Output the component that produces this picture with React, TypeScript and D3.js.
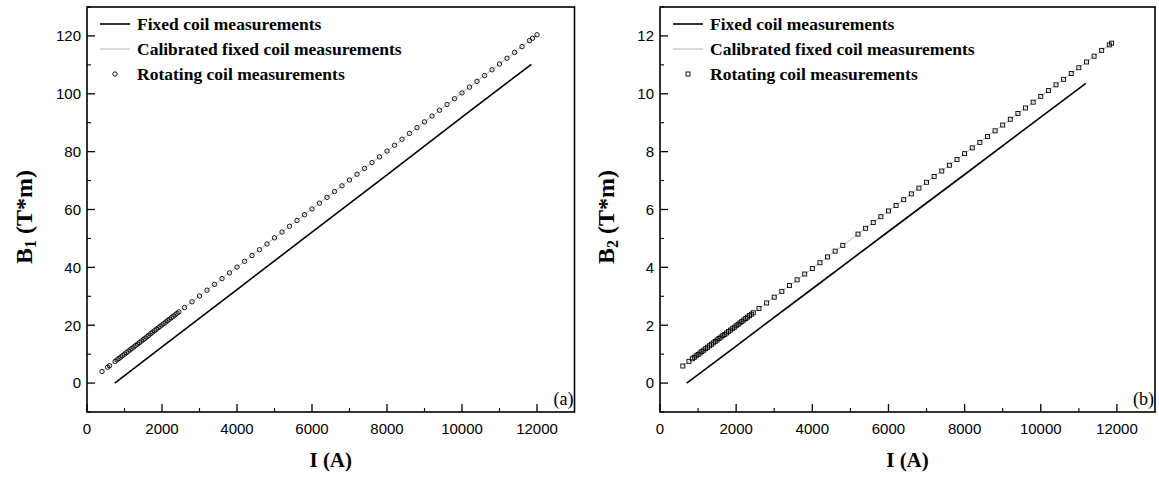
import React from 'react';
import * as d3 from 'd3';

// ---------- Panel (a) data ----------
const aRotCurrent = [400, 550, 600, 750, 800, 850, 900, 950, 1000, 1050, 1100, 1150, 1200, 1250, 1300, 1350, 1400, 1450, 1500, 1550, 1600, 1650, 1700, 1750, 1800, 1850, 1900, 1950, 2000, 2050, 2100, 2150, 2200, 2250, 2300, 2350, 2400, 2450, 2600, 2800, 3000, 3200, 3400, 3600, 3800, 4000, 4200, 4400, 4600, 4800, 5000, 5200, 5400, 5600, 5800, 6000, 6200, 6400, 6600, 6800, 7000, 7200, 7400, 7600, 7800, 8000, 8200, 8400, 8600, 8800, 9000, 9200, 9400, 9600, 9800, 10000, 10200, 10400, 10600, 10800, 11000, 11200, 11400, 11600, 11800, 11880, 12000];
const aRotB = [4.0, 5.5, 6.0, 7.5, 8.0, 8.5, 9.0, 9.5, 10.0, 10.5, 11.0, 11.5, 12.0, 12.5, 13.0, 13.5, 14.0, 14.5, 15.0, 15.5, 16.0, 16.5, 17.1, 17.6, 18.1, 18.6, 19.1, 19.6, 20.1, 20.6, 21.1, 21.6, 22.1, 22.6, 23.1, 23.6, 24.1, 24.6, 26.1, 28.1, 30.1, 32.1, 34.1, 36.1, 38.1, 40.1, 42.1, 44.1, 46.1, 48.1, 50.2, 52.2, 54.2, 56.2, 58.2, 60.2, 62.2, 64.2, 66.2, 68.2, 70.2, 72.2, 74.2, 76.2, 78.2, 80.2, 82.2, 84.3, 86.3, 88.3, 90.3, 92.3, 94.3, 96.3, 98.3, 100.3, 102.3, 104.3, 106.3, 108.3, 110.3, 112.3, 114.3, 116.3, 118.4, 119.2, 120.4];
const aFixedCurrent = [741, 2000, 4000, 6000, 8000, 10000, 11850];
const aFixedB = [0.0, 12.5, 32.3, 52.2, 72.0, 91.9, 110.2];
const aCalCurrent = [400, 2000, 4000, 6000, 8000, 10000, 12000];
const aCalB = [4.0, 20.1, 40.1, 60.2, 80.2, 100.3, 120.4];

// ---------- Panel (b) data ----------
const bRotCurrent = [600, 760, 850, 900, 950, 1000, 1050, 1100, 1150, 1200, 1250, 1300, 1350, 1400, 1450, 1500, 1550, 1600, 1650, 1700, 1750, 1800, 1850, 1900, 1950, 2000, 2050, 2100, 2150, 2200, 2250, 2300, 2350, 2400, 2450, 2600, 2800, 3000, 3200, 3400, 3600, 3800, 4000, 4200, 4400, 4600, 4800, 5200, 5400, 5600, 5800, 6000, 6200, 6400, 6600, 6800, 7000, 7200, 7400, 7600, 7800, 8000, 8200, 8400, 8600, 8800, 9000, 9200, 9400, 9600, 9800, 10000, 10200, 10400, 10600, 10800, 11000, 11200, 11400, 11600, 11800, 11860];
const bRotB = [0.59, 0.75, 0.84, 0.89, 0.94, 0.99, 1.04, 1.09, 1.14, 1.19, 1.24, 1.29, 1.34, 1.39, 1.44, 1.49, 1.54, 1.59, 1.64, 1.68, 1.73, 1.78, 1.83, 1.88, 1.93, 1.98, 2.03, 2.08, 2.13, 2.18, 2.23, 2.28, 2.33, 2.38, 2.43, 2.58, 2.77, 2.97, 3.17, 3.37, 3.57, 3.77, 3.96, 4.16, 4.36, 4.56, 4.76, 5.15, 5.35, 5.55, 5.75, 5.95, 6.14, 6.34, 6.54, 6.74, 6.94, 7.14, 7.33, 7.53, 7.73, 7.93, 8.13, 8.32, 8.52, 8.72, 8.92, 9.12, 9.32, 9.51, 9.71, 9.91, 10.11, 10.31, 10.50, 10.70, 10.90, 11.10, 11.30, 11.50, 11.69, 11.75];
const bFixedCurrent = [702, 2000, 4000, 6000, 8000, 10000, 11184];
const bFixedB = [0.0, 1.28, 3.26, 5.24, 7.21, 9.19, 10.36];
const bCalCurrent = [600, 2000, 4000, 6000, 8000, 10000, 11860];
const bCalB = [0.59, 1.98, 3.96, 5.95, 7.93, 9.91, 11.75];

// ---------- Axis labels ----------
const xTicks = [0, 2000, 4000, 6000, 8000, 10000, 12000];
const xMinor = [1000, 3000, 5000, 7000, 9000, 11000];
const aYTicks = [0, 20, 40, 60, 80, 100, 120];
const aYMinor = [-10, 10, 30, 50, 70, 90, 110, 130];
const bYTicks = [0, 2, 4, 6, 8, 10, 12];
const bYMinor = [-1, 1, 3, 5, 7, 9, 11, 13];
const legendLabels = ['Fixed coil measurements', 'Calibrated fixed coil measurements', 'Rotating coil measurements'];

const SERIF = '"Liberation Serif", "Times New Roman", serif';
const SANS = '"Liberation Sans", Arial, sans-serif';

type PanelProps = {
  left: number;
  right: number;
  yDomain: [number, number];
  yTicks: number[];
  yMinor: number[];
  rotI: number[];
  rotB: number[];
  fixI: number[];
  fixB: number[];
  calI: number[];
  calB: number[];
  marker: 'circle' | 'square';
  sub: string;
  tag: string;
  yLabelX: number;
};

function Panel(p: PanelProps) {
  const top = 7;
  const bottom = 412;
  const x = d3.scaleLinear().domain([0, 13000]).range([p.left, p.right]);
  const y = d3.scaleLinear().domain(p.yDomain).range([bottom, top]);
  const line = d3
    .line<[number, number]>()
    .x((d) => x(d[0]))
    .y((d) => y(d[1]));
  const fixed = p.fixI.map((v, i) => [v, p.fixB[i]] as [number, number]);
  const cal = p.calI.map((v, i) => [v, p.calB[i]] as [number, number]);
  const rot = p.rotI.map((v, i) => [v, p.rotB[i]] as [number, number]);
  const legX = p.left;
  const midX = (p.left + p.right) / 2;
  const midY = 217;
  return (
    <g>
      <path d={line(cal) || ''} fill="none" stroke="#b4b4b4" strokeWidth={1} />
      <path d={line(fixed) || ''} fill="none" stroke="#000" strokeWidth={1.6} />
      {rot.map((d, i) =>
        p.marker === 'circle' ? (
          <circle key={i} cx={x(d[0])} cy={y(d[1])} r={2.2} fill="none" stroke="#000" strokeWidth={0.9} />
        ) : (
          <rect key={i} x={x(d[0]) - 2} y={y(d[1]) - 2} width={4} height={4} fill="none" stroke="#000" strokeWidth={0.9} />
        )
      )}
      <rect x={p.left} y={top} width={p.right - p.left} height={bottom - top} fill="none" stroke="#000" strokeWidth={1.6} />
      {xTicks.map((t) => (
        <g key={'xt' + t}>
          <line x1={x(t)} x2={x(t)} y1={bottom} y2={bottom - 8} stroke="#000" strokeWidth={1.3} />
          <text x={x(t)} y={433.5} textAnchor="middle" fontFamily={SANS} fontSize={15} fill="#000">
            {t}
          </text>
        </g>
      ))}
      {xMinor.map((t) => (
        <line key={'xm' + t} x1={x(t)} x2={x(t)} y1={bottom} y2={bottom - 4} stroke="#000" strokeWidth={1.1} />
      ))}
      {p.yTicks.map((t) => (
        <g key={'yt' + t}>
          <line x1={p.left} x2={p.left + 8} y1={y(t)} y2={y(t)} stroke="#000" strokeWidth={1.3} />
          <text x={p.left - 6} y={y(t)} dy="0.36em" textAnchor="end" fontFamily={SANS} fontSize={15} fill="#000">
            {t}
          </text>
        </g>
      ))}
      {p.yMinor.map((t) => (
        <line key={'ym' + t} x1={p.left} x2={p.left + 4} y1={y(t)} y2={y(t)} stroke="#000" strokeWidth={1.1} />
      ))}
      <text x={midX} y={467} textAnchor="middle" fontFamily={SERIF} fontWeight="bold" fontSize={21} fill="#000">
        I (A)
      </text>
      <text
        transform={`translate(${p.yLabelX},${midY}) rotate(-90)`}
        textAnchor="middle"
        fontFamily={SERIF}
        fontWeight="bold"
        fontSize={24}
        fill="#000"
      >
        <tspan>B</tspan>
        <tspan fontSize={16} dy={4}>{p.sub}</tspan>
        <tspan dy={-4}> (T*m)</tspan>
      </text>
      <text x={p.right - 1} y={405} textAnchor="end" fontFamily={SERIF} fontSize={18} fill="#000">
        {p.tag}
      </text>
      <line x1={legX + 13} x2={legX + 43} y1={24} y2={24} stroke="#000" strokeWidth={1.6} />
      <line x1={legX + 13} x2={legX + 43} y1={49} y2={49} stroke="#b4b4b4" strokeWidth={1} />
      {p.marker === 'circle' ? (
        <circle cx={legX + 28} cy={74} r={2.2} fill="none" stroke="#000" strokeWidth={0.9} />
      ) : (
        <rect x={legX + 26} y={72} width={4} height={4} fill="none" stroke="#000" strokeWidth={0.9} />
      )}
      {legendLabels.map((l, i) => (
        <text key={l} x={legX + 50} y={30 + i * 25} fontFamily={SERIF} fontWeight="bold" fontSize={17.5} fill="#000">
          {l}
        </text>
      ))}
    </g>
  );
}

export default function App() {
  return (
    <svg width={1159} height={480} style={{ position: 'absolute', left: 0, top: 0, background: '#fff' }}>
      <rect x={0} y={0} width={1159} height={480} fill="#fff" />
      <Panel
        left={87}
        right={574.5}
        yDomain={[-10, 130]}
        yTicks={aYTicks}
        yMinor={aYMinor}
        rotI={aRotCurrent}
        rotB={aRotB}
        fixI={aFixedCurrent}
        fixB={aFixedB}
        calI={aCalCurrent}
        calB={aCalB}
        marker="circle"
        sub="1"
        tag="(a)"
        yLabelX={32}
      />
      <Panel
        left={660}
        right={1155}
        yDomain={[-1, 13]}
        yTicks={bYTicks}
        yMinor={bYMinor}
        rotI={bRotCurrent}
        rotB={bRotB}
        fixI={bFixedCurrent}
        fixB={bFixedB}
        calI={bCalCurrent}
        calB={bCalB}
        marker="square"
        sub="2"
        tag="(b)"
        yLabelX={614}
      />
    </svg>
  );
}
